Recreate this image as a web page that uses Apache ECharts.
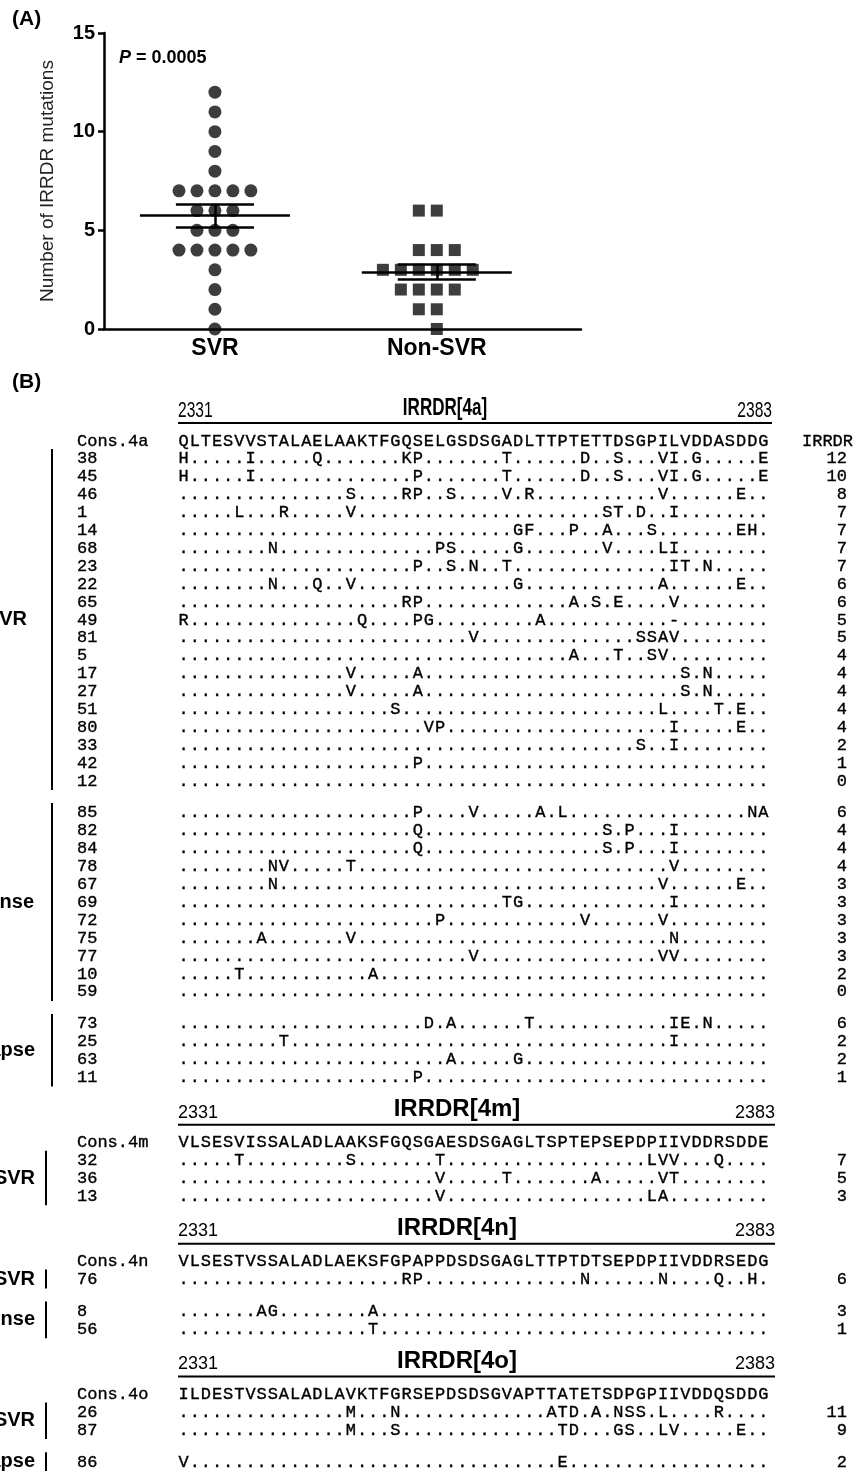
<!DOCTYPE html>
<html>
<head>
<meta charset="utf-8">
<script src="https://cdn.jsdelivr.net/npm/echarts@6/dist/echarts.min.js"></script>
<style>
  html, body { margin: 0; padding: 0; background: #fff; }
  #chart { width: 862px; height: 1471px; }
</style>
</head>
<body>
<div id="chart"></div>
<script>
// ---------- panel A : number of IRRDR mutations per patient ----------
const groupNames = ['SVR', 'Non-SVR'];
const svrMutations = [12, 11, 10, 9, 8, 7, 7, 7, 7, 7, 6, 6, 6, 5, 5, 5, 4, 4, 4, 4, 4, 3, 2, 1, 0];
const nonSvrMutations = [6, 6, 4, 4, 4, 3, 3, 3, 3, 3, 3, 2, 2, 2, 2, 1, 1, 0];
const pValue = '0.0005';

// ---------- panel B : IRRDR alignments (mutations as "position+residue") ----------
const residueFirst = 2331, residueLast = 2383;

const cons4a = 'QLTESVVSTALAELAAKTFGQSELGSDSGADLTTPTETTDSGPILVDDASDDG';
const groups4a = ['SVR', 'No response', 'Relapse'];
const groupSizes4a = [19, 11, 4];
const ids4a = ['38', '45', '46', '1', '14', '68', '23', '22', '65', '49', '81', '5', '17', '27', '51', '80', '33', '42', '12',
  '85', '82', '84', '78', '67', '69', '72', '75', '77', '10', '59',
  '73', '25', '63', '11'];
const muts4a = [
  '1H 7I 13Q 21K 22P 30T 37D 40S 44V 45I 47G 53E',
  '1H 7I 22P 30T 37D 40S 44V 45I 47G 53E',
  '16S 21R 22P 25S 30V 32R 44V 51E',
  '6L 10R 16V 39S 40T 42D 45I',
  '31G 32F 36P 39A 43S 51E 52H',
  '9N 24P 25S 31G 39V 44L 45I',
  '22P 25S 27N 30T 45I 46T 48N',
  '9N 13Q 16V 31G 44A 51E',
  '21R 22P 36A 38S 40E 45V',
  '1R 17Q 22P 23G 33A 45-',
  '27V 42S 43S 44A 45V',
  '36A 40T 43S 44V',
  '16V 22A 46S 48N',
  '16V 22A 46S 48N',
  '20S 44L 49T 51E',
  '23V 24P 45I 51E',
  '42S 45I',
  '22P',
  '',
  '22P 27V 33A 35L 52N 53A',
  '22Q 39S 41P 45I',
  '22Q 39S 41P 45I',
  '9N 10V 16T 45V',
  '9N 44V 51E',
  '30T 31G 45I',
  '24P 37V 44V',
  '8A 16V 45N',
  '27V 44V 45V',
  '6T 18A',
  '',
  '23D 25A 32T 45I 46E 48N',
  '10T 45I',
  '25A 31G',
  '22P'
];
const irrdr4a = [12, 10, 8, 7, 7, 7, 7, 6, 6, 5, 5, 4, 4, 4, 4, 4, 2, 1, 0,
  6, 4, 4, 4, 3, 3, 3, 3, 3, 2, 0,
  6, 2, 2, 1];

const cons4m = 'VLSESVISSALADLAAKSFGQSGAESDSGAGLTSPTEPSEPDPIIVDDRSDDE';
const groups4m = ['SVR'];
const groupSizes4m = [3];
const ids4m = ['32', '36', '13'];
const muts4m = ['6T 16S 24T 43L 44V 45V 49Q', '24V 30T 38A 44V 45T', '24V 43L 44A'];
const irrdr4m = [7, 5, 3];

const cons4n = 'VLSESTVSSALADLAEKSFGPAPPDSDSGAGLTTPTDTSEPDPIIVDDRSEDG';
const groups4n = ['SVR', 'No response'];
const groupSizes4n = [1, 2];
const ids4n = ['76', '8', '56'];
const muts4n = ['21R 22P 37N 44N 49Q 52H', '8A 9G 18A', '18T'];
const irrdr4n = [6, 3, 1];

const cons4o = 'ILDESTVSSALADLAVKTFGRSEPDSDSGVAPTTATETSDPGPIIVDDQSDDG';
const groups4o = ['SVR', 'Relapse'];
const groupSizes4o = [2, 1];
const ids4o = ['26', '87', '86'];
const muts4o = ['16M 20N 34A 35T 36D 38A 40N 41S 42S 44L 49R', '16M 20S 35T 36D 40G 41S 44L 45V 51E', '1V 35E'];
const irrdr4o = [11, 9, 2];

const sections = [
  { name: '4a', cons: cons4a, groups: groups4a, sizes: groupSizes4a, ids: ids4a, muts: muts4a, irrdr: irrdr4a },
  { name: '4m', cons: cons4m, groups: groups4m, sizes: groupSizes4m, ids: ids4m, muts: muts4m, irrdr: irrdr4m },
  { name: '4n', cons: cons4n, groups: groups4n, sizes: groupSizes4n, ids: ids4n, muts: muts4n, irrdr: irrdr4n },
  { name: '4o', cons: cons4o, groups: groups4o, sizes: groupSizes4o, ids: ids4o, muts: muts4o, irrdr: irrdr4o }
];

// ---------- look ----------
const INK = '#000';
const SANS = 'Liberation Sans, Arial, sans-serif';
const MONO = 'Liberation Mono, DejaVu Sans Mono, monospace';
const SWARM_STEP = 0.081;      // horizontal spacing of tied points (x units)
const MEAN_HALF = 0.338, SEM_HALF = 0.176;
const GROUP_GAP = 0.78, SECTION_GAP = 3.64;   // extra blank lines in panel B
const X_ID = 77, X_COUNT = 847, X_IRRDR = 853, X_SEQ = 178;
// mono text is a little heavier in the scan, so give it a hairline outline
const monoStyle = { fontFamily: MONO, fontSize: 17, fill: INK, stroke: INK, lineWidth: 0.35, verticalAlign: 'middle' };
// header look per section (first header is drawn condensed)
const headerLook = [
  { squeeze: 0.71, numSize: 22, titleX: 445, rightX: 772 },
  { squeeze: 1, numSize: 18, titleX: 457, rightX: 775 },
  { squeeze: 1, numSize: 18, titleX: 457, rightX: 775 },
  { squeeze: 1, numSize: 18, titleX: 457, rightX: 775 }
];
const bracketX = [52, 46, 46, 46];
const labelRight = { '0SVR': 27, '0No response': 34, '0Relapse': 35 };

// ---------- panel A helpers ----------
function swarm(values, center) {
  const counts = {}, seen = {};
  values.forEach(v => { counts[v] = (counts[v] || 0) + 1; });
  return values.map(v => {
    seen[v] = seen[v] === undefined ? 0 : seen[v] + 1;
    return [center + (seen[v] - Math.floor(counts[v] / 2)) * SWARM_STEP, v];
  });
}
function meanSem(values) {
  const n = values.length;
  const m = values.reduce((a, b) => a + b, 0) / n;
  const sd = Math.sqrt(values.reduce((a, b) => a + (b - m) * (b - m), 0) / (n - 1));
  return { m: m, sem: sd / Math.sqrt(n) };
}
function errorBars(values, c) {
  const s = meanSem(values);
  return [
    { coords: [[c - MEAN_HALF, s.m], [c + MEAN_HALF, s.m]] },
    { coords: [[c - SEM_HALF, s.m + s.sem], [c + SEM_HALF, s.m + s.sem]] },
    { coords: [[c - SEM_HALF, s.m - s.sem], [c + SEM_HALF, s.m - s.sem]] },
    { coords: [[c, s.m - s.sem], [c, s.m + s.sem]] }
  ];
}

// ---------- panel B layout (lines counted from the first consensus row) ----------
function expand(cons, muts) {
  const row = cons.split('').map(() => '.');
  muts.split(' ').filter(Boolean).forEach(t => {
    const pos = parseInt(t, 10);
    row[pos - 1] = t.slice(String(pos).length);
  });
  return row;
}
const seqCells = [], rowLabels = [], headers = [], brackets = [];
let line = 0;
sections.forEach((sec, si) => {
  if (si > 0) line += SECTION_GAP;
  headers.push({ line: line, name: sec.name, si: si });
  rowLabels.push({ line: line, id: 'Cons.' + sec.name, count: '', extra: si === 0 ? 'IRRDR' : '' });
  sec.cons.split('').forEach((ch, c) => seqCells.push([c, line, ch]));
  let r = 0;
  sec.groups.forEach((g, gi) => {
    line += gi === 0 ? 1 : 1 + GROUP_GAP;
    const first = line;
    for (let k = 0; k < sec.sizes[gi]; k++, r++) {
      if (k > 0) line += 1;
      expand(sec.cons, sec.muts[r]).forEach((ch, c) => seqCells.push([c, line, ch]));
      rowLabels.push({ line: line, id: sec.ids[r], count: String(sec.irrdr[r]), extra: '' });
    }
    brackets.push({ first: first, last: line, name: g, si: si });
  });
});

// ---------- chart ----------
const chart = echarts.init(document.getElementById('chart'));

const option = {
  animation: false,
  backgroundColor: '#fff',
  title: [
    { text: '(A)', left: 12, top: 9, padding: 0,
      textStyle: { fontSize: 21, fontWeight: 'bold', fontFamily: SANS, color: INK } },
    { text: '{i|P} = ' + pValue, left: 119, top: 49, padding: 0,
      textStyle: { fontSize: 18, fontWeight: 'bold', fontFamily: SANS, color: INK,
        rich: { i: { fontSize: 18, fontWeight: 'bold', fontStyle: 'italic', fontFamily: SANS, color: INK } } } },
    { text: '(B)', left: 12, top: 372, padding: 0,
      textStyle: { fontSize: 21, fontWeight: 'bold', fontFamily: SANS, color: INK } }
  ],
  grid: [
    { left: 104, top: 33, width: 477, height: 296 },
    { left: X_SEQ, top: 441 - 3.5 * 17.9, width: 591, height: 61 * 17.9 }
  ],
  xAxis: [
    { gridIndex: 0, type: 'value', min: 0.5, max: 2.65, interval: 0.5,
      axisLine: { lineStyle: { color: INK, width: 2.5 } },
      axisTick: { show: false }, splitLine: { show: false },
      axisLabel: { margin: 8, color: INK, fontSize: 23, fontWeight: 'bold', fontFamily: SANS,
        showMinLabel: true, showMaxLabel: true,
        formatter: v => (Number.isInteger(v) && groupNames[v - 1]) ? groupNames[v - 1] : '' } },
    { gridIndex: 1, type: 'value', min: -0.5, max: 52.5, show: false }
  ],
  yAxis: [
    { gridIndex: 0, type: 'value', min: 0, max: 15, interval: 5,
      name: 'Number of IRRDR mutations', nameLocation: 'middle', nameGap: 47,
      nameTextStyle: { fontSize: 19, fontFamily: SANS, color: '#222' },
      axisLine: { show: true, lineStyle: { color: INK, width: 2.5 } },
      axisTick: { show: true, length: 6, lineStyle: { color: INK, width: 2.5 } },
      splitLine: { show: false },
      axisLabel: { margin: 9, color: INK, fontSize: 20, fontWeight: 'bold', fontFamily: SANS } },
    { gridIndex: 1, type: 'value', inverse: true, min: -3.5, max: 57.5, show: false }
  ],
  series: [
    { type: 'scatter', name: groupNames[0], xAxisIndex: 0, yAxisIndex: 0, clip: false,
      symbol: 'circle', symbolSize: 13, itemStyle: { color: '#0d0d0d' },
      data: swarm(svrMutations, 1) },
    { type: 'scatter', name: groupNames[1], xAxisIndex: 0, yAxisIndex: 0, clip: false,
      symbol: 'rect', symbolSize: 12, itemStyle: { color: '#0d0d0d' },
      data: swarm(nonSvrMutations, 2) },
    { type: 'lines', coordinateSystem: 'cartesian2d', xAxisIndex: 0, yAxisIndex: 0, z: 5,
      lineStyle: { color: INK, width: 2.5, opacity: 1 },
      data: errorBars(svrMutations, 1).concat(errorBars(nonSvrMutations, 2)) },

    // alignment residues
    { type: 'custom', xAxisIndex: 1, yAxisIndex: 1, clip: false,
      data: seqCells.map(c => [c[0], c[1]]),
      renderItem: (params, api) => {
        const cell = seqCells[params.dataIndex];
        const p = api.coord([cell[0], cell[1]]);
        return { type: 'text', x: p[0], y: p[1],
          style: Object.assign({ text: cell[2], align: 'center' }, monoStyle) };
      } },
    // patient ids and IRRDR counts
    { type: 'custom', xAxisIndex: 1, yAxisIndex: 1, clip: false,
      data: rowLabels.map(r => [0, r.line]),
      renderItem: (params, api) => {
        const r = rowLabels[params.dataIndex];
        const y = api.coord([0, r.line])[1];
        return { type: 'group', children: [
          { type: 'text', x: X_ID, y: y, style: Object.assign({ text: r.id, align: 'left' }, monoStyle) },
          { type: 'text', x: X_COUNT, y: y, style: Object.assign({ text: r.count, align: 'right' }, monoStyle) },
          { type: 'text', x: X_IRRDR, y: y, style: Object.assign({ text: r.extra, align: 'right' }, monoStyle) }
        ] };
      } },
    // region headers
    { type: 'custom', xAxisIndex: 1, yAxisIndex: 1, clip: false,
      data: headers.map(h => [0, h.line]),
      renderItem: (params, api) => {
        const h = headers[params.dataIndex];
        const look = headerLook[h.si];
        const yLine = api.coord([0, h.line - 1.0])[1];
        const yNum = api.coord([0, h.line - 1.68])[1];
        const yTitle = api.coord([0, h.line - 1.85])[1];
        return { type: 'group', children: [
          { type: 'line', shape: { x1: X_SEQ, y1: yLine, x2: look.rightX, y2: yLine },
            style: { stroke: INK, lineWidth: 2 } },
          { type: 'text', x: X_SEQ, y: yNum, scaleX: look.squeeze,
            style: { text: String(residueFirst), fontFamily: SANS, fontSize: look.numSize, fill: INK, align: 'left', verticalAlign: 'middle' } },
          { type: 'text', x: look.rightX, y: yNum, scaleX: look.squeeze,
            style: { text: String(residueLast), fontFamily: SANS, fontSize: look.numSize, fill: INK, align: 'right', verticalAlign: 'middle' } },
          { type: 'text', x: look.titleX, y: yTitle, scaleX: look.squeeze,
            style: { text: 'IRRDR[' + h.name + ']', fontFamily: SANS, fontSize: 24, fontWeight: 'bold', fill: INK, align: 'center', verticalAlign: 'middle' } }
        ] };
      } },
    // outcome brackets
    { type: 'custom', xAxisIndex: 1, yAxisIndex: 1, clip: false,
      data: brackets.map(b => [0, b.first]),
      renderItem: (params, api) => {
        const b = brackets[params.dataIndex];
        const y1 = api.coord([0, b.first - 0.55])[1];
        const y2 = api.coord([0, b.last + 0.5])[1];
        const bx = bracketX[b.si];
        const lx = labelRight[b.si + b.name] !== undefined ? labelRight[b.si + b.name] : 35;
        return { type: 'group', children: [
          { type: 'line', shape: { x1: bx, y1: y1, x2: bx, y2: y2 }, style: { stroke: INK, lineWidth: 2 } },
          { type: 'text', x: lx, y: (y1 + y2) / 2,
            style: { text: b.name, fontFamily: SANS, fontSize: 20, fontWeight: 'bold', fill: INK, align: 'right', verticalAlign: 'middle' } }
        ] };
      } }
  ]
};

chart.setOption(option);
</script>
</body>
</html>
